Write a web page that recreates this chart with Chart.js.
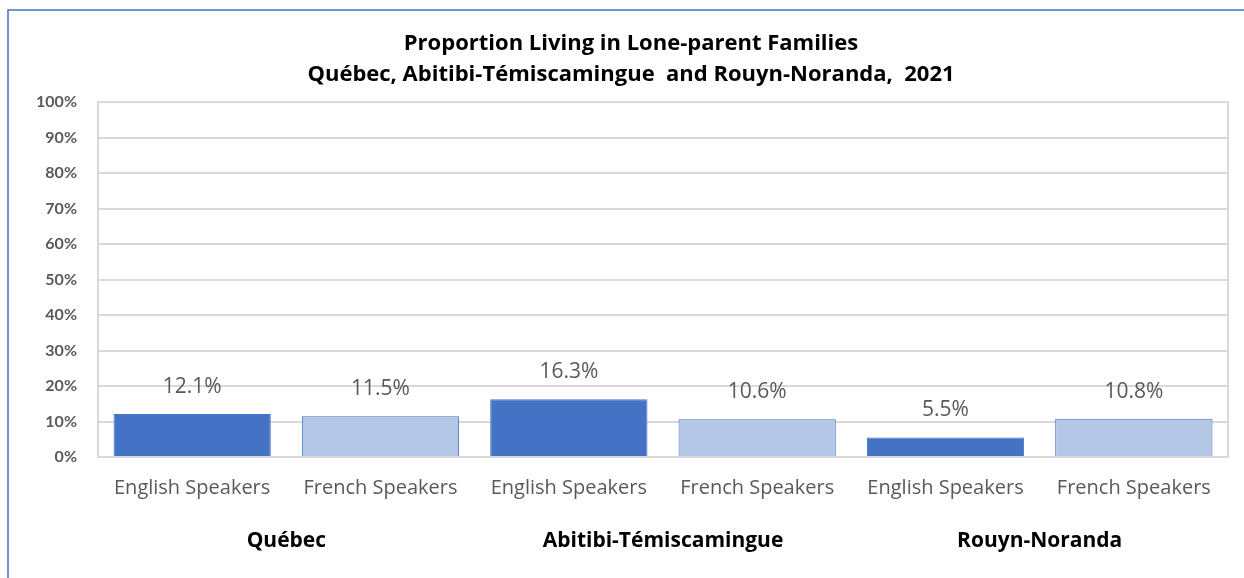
<!DOCTYPE html>
<html>
<head>
<meta charset="utf-8">
<script src="https://cdn.jsdelivr.net/npm/chart.js@4.4.1/dist/chart.umd.min.js"></script>
<style>
  html, body { margin: 0; padding: 0; background: #fff; }
</style>
</head>
<body>
<canvas id="grafica" width="1244" height="578"></canvas>
<script>
// datos del grafico
var speakers = ['English Speakers', 'French Speakers', 'English Speakers', 'French Speakers', 'English Speakers', 'French Speakers'];
var regions = ['Québec', 'Abitibi-Témiscamingue', 'Rouyn-Noranda'];
var loneParent = [12.1, 11.5, 16.3, 10.6, 5.5, 10.8];
var yTicks = [0, 10, 20, 30, 40, 50, 60, 70, 80, 90, 100];
var titleLines = ['Proportion Living in Lone-parent Families', 'Québec, Abitibi-Témiscamingue  and Rouyn-Noranda,  2021'];

var FONT = '"Open Sans", Lato, sans-serif';
var dark = '#4472C4';
var light = '#B4C7E7';

// marco azul y borde del area de trazado
var marco = {
	id: 'marco',
	beforeDraw: function(chart){
		var c = chart.ctx;
		c.save();
		c.fillStyle = '#fff';
		c.fillRect(0, 0, chart.width, chart.height);
		c.strokeStyle = '#4472C4';
		c.lineWidth = 1.5;
		c.beginPath();
		c.moveTo(8, chart.height);
		c.lineTo(8, 10);
		c.lineTo(chart.width, 10);
		c.stroke();
		c.restore();
	},
	afterDraw: function(chart){
		var a = chart.chartArea;
		var c = chart.ctx;
		c.save();
		c.strokeStyle = '#d9d9d9';
		c.lineWidth = 2;
		c.strokeRect(a.left, a.top, a.right - a.left, a.bottom - a.top);
		c.restore();
	}
};

// etiquetas de valor sobre las barras
var etiquetas = {
	id: 'etiquetas',
	afterDatasetsDraw: function(chart){
		var c = chart.ctx;
		var meta = chart.getDatasetMeta(0);
		c.save();
		c.font = '21px ' + FONT;
		c.fillStyle = '#595959';
		c.textAlign = 'center';
		c.textBaseline = 'middle';
		meta.data.forEach(function(bar, i){
			c.fillText(loneParent[i].toFixed(1) + '%', bar.x, bar.y - 27);
		});
		c.restore();
	}
};

var ctx = document.querySelector('#grafica');
var myChart = new Chart(ctx, {
	type: 'bar',
	data: {
		labels: speakers,
		datasets: [{
			data: loneParent,
			backgroundColor: loneParent.map(function(v, i){ return i % 2 === 0 ? dark : light; }),
			borderColor: dark,
			borderWidth: 1,
			categoryPercentage: 1,
			barPercentage: 0.835
		}]
	},
	options: {
		responsive: false,
		animation: false,
		devicePixelRatio: 1,
		layout: { padding: { left: 34, right: 16, top: 0, bottom: 0 } },
		plugins: {
			legend: { display: false },
			tooltip: { enabled: false },
			title: {
				display: true,
				text: titleLines,
				color: '#000',
				font: { family: FONT, size: 22, weight: 'bold', lineHeight: 1.41 },
				padding: { top: 28, bottom: 12 }
			}
		},
		scales: {
			x: {
				grid: { display: false, drawTicks: false },
				border: { display: false },
				ticks: { color: '#595959', font: { family: FONT, size: 20 }, padding: 19, maxRotation: 0, autoSkip: false },
				afterFit: function(s){ s.height = 55; }
			},
			x2: {
				type: 'category',
				position: 'bottom',
				labels: regions,
				offset: true,
				grid: { display: false, drawTicks: false },
				border: { display: false },
				ticks: { color: '#000', font: { family: FONT, size: 21, weight: 'bold' }, padding: 16, maxRotation: 0 },
				afterFit: function(s){ s.height = 66; }
			},
			y: {
				min: 0,
				max: 100,
				afterBuildTicks: function(axis){
					axis.ticks = yTicks.map(function(v){ return { value: v }; });
				},
				afterFit: function(s){ s.width = 64; },
				grid: { color: '#d9d9d9', lineWidth: 2, drawTicks: false },
				border: { display: false },
				ticks: {
					color: '#595959',
					padding: 21,
					font: { family: 'Lato, sans-serif', size: 16, weight: 'bold' },
					callback: function(v){ return v + '%'; }
				}
			}
		}
	},
	plugins: [marco, etiquetas]
});
</script>
</body>
</html>
